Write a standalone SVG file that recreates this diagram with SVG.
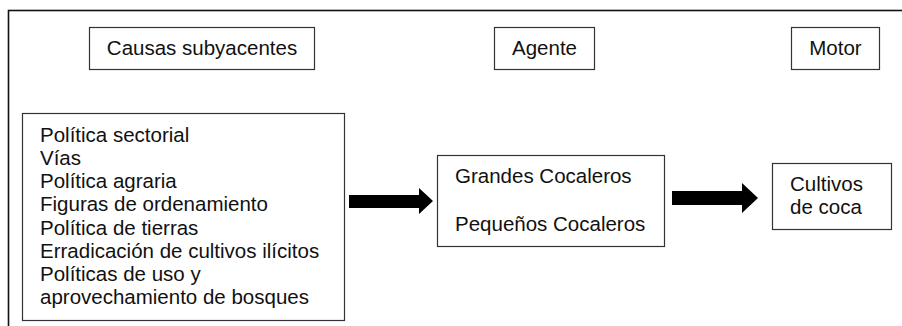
<svg xmlns="http://www.w3.org/2000/svg" width="902" height="326" viewBox="0 0 902 326">
<style>
.box{fill:#fff;stroke:#333;stroke-width:1.2}
.t{font-family:"Liberation Sans",Arial,sans-serif;font-size:20.5px;fill:#111}
.c{text-anchor:middle}
.arrow{fill:#000}
</style>
<rect width="902" height="326" fill="#fff"/>
<rect x="8.5" y="10.5" width="1000" height="400" fill="none" stroke="#111" stroke-width="1.6"/>
<g id="causas-header">
<rect class="box" x="89.5" y="27.5" width="225" height="42"/>
<text class="t c" x="202" y="55">Causas subyacentes</text>
</g>
<g id="agente-header">
<rect class="box" x="494.5" y="27.5" width="100" height="42"/>
<text class="t c" x="544.5" y="55">Agente</text>
</g>
<g id="motor-header">
<rect class="box" x="791.5" y="27.5" width="88" height="42"/>
<text class="t c" x="835.5" y="55">Motor</text>
</g>
<g id="causas">
<rect class="box" x="22.5" y="113.5" width="322" height="207"/>
<text class="t" x="40" y="142">Política sectorial</text>
<text class="t" x="40" y="165">Vías</text>
<text class="t" x="40" y="188">Política agraria</text>
<text class="t" x="40" y="211">Figuras de ordenamiento</text>
<text class="t" x="40" y="235">Política de tierras</text>
<text class="t" x="40" y="258">Erradicación de cultivos ilícitos</text>
<text class="t" x="40" y="281">Políticas de uso y</text>
<text class="t" x="40" y="304">aprovechamiento de bosques</text>
</g>
<g id="agente">
<rect class="box" x="437.5" y="155.5" width="227" height="91"/>
<text class="t" x="455" y="183">Grandes Cocaleros</text>
<text class="t" x="455" y="231">Pequeños Cocaleros</text>
</g>
<g id="motor">
<rect class="box" x="772.5" y="163.5" width="119" height="66"/>
<text class="t" x="790" y="191">Cultivos</text>
<text class="t" x="790" y="214">de coca</text>
</g>
<g id="connectors">
<polygon class="arrow" points="349,195 419,195 419,188 433,201 419,214 419,208 349,208"/>
<polygon class="arrow" points="672,191 742,191 742,183 758,198 742,213 742,205 672,205"/>
</g>
</svg>
